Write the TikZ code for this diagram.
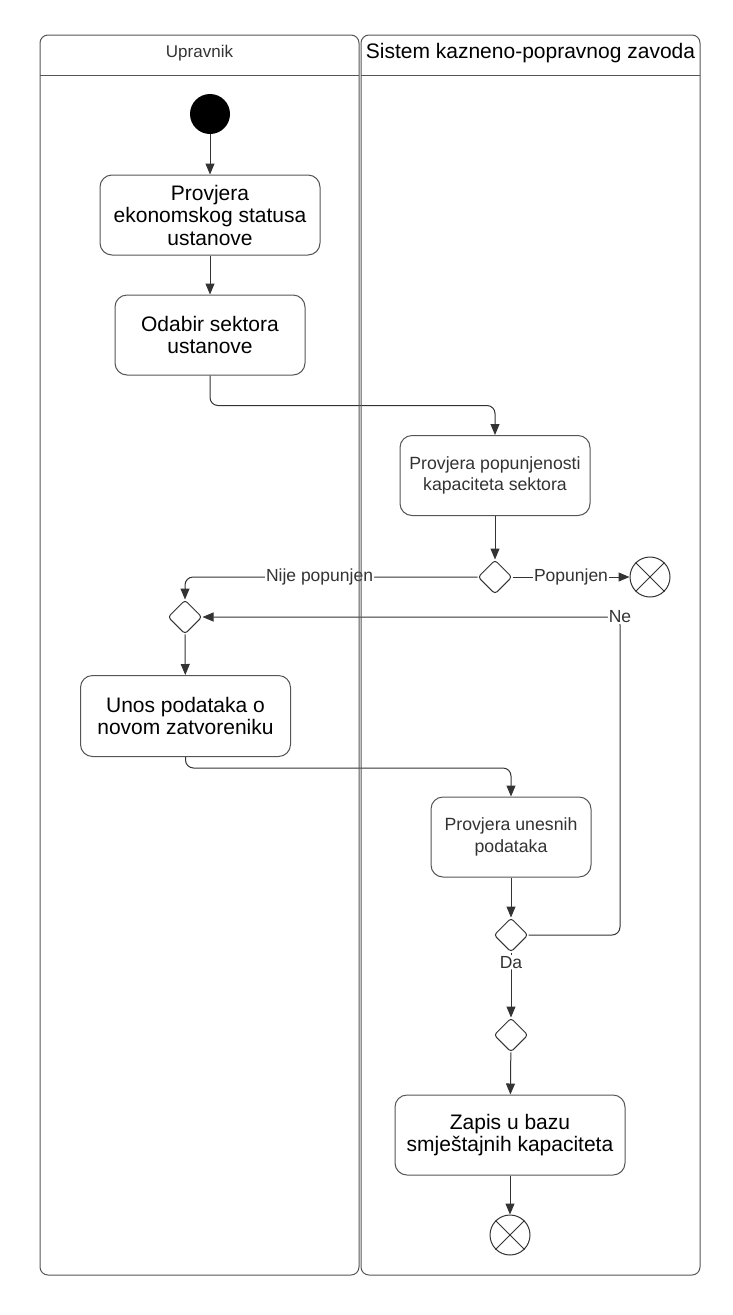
\documentclass[tikz,border=0pt]{standalone}
\usepackage{fontspec}
\setmainfont{Liberation Sans}
\usepackage{tikz}
\usetikzlibrary{calc,positioning,arrows.meta,shapes.geometric}
\definecolor{ink}{HTML}{333333}
\definecolor{rim}{HTML}{555555}
\tikzset{%
  >={Triangle[length=11pt,width=9pt]},
  lane/.style    = {draw=rim, line width=1pt, rounded corners=8pt},
  act/.style     = {draw=rim, line width=1pt, rounded corners=12pt, fill=white, align=center,
                    inner sep=0pt, font=\fontsize{21}{22.5}\selectfont},
  actsm/.style   = {act, text=ink, font=\fontsize{17.7}{21.7}\selectfont},
  dec/.style     = {diamond, draw=ink, line width=1pt, rounded corners=3pt, fill=white,
                    minimum size=34pt, inner sep=0pt},
  initial/.style = {circle, fill=black, minimum size=40pt, inner sep=0pt},
  final/.style   = {circle, draw=ink, line width=1pt, fill=white, minimum size=40pt, inner sep=0pt},
  line/.style    = {draw=ink, line width=1pt, ->, rounded corners=8pt},
  lbl/.style     = {fill=white, text=ink, inner sep=1pt, font=\fontsize{17.5}{20}\selectfont}
}
\begin{document}
\begin{tikzpicture}[x=1pt,y=-1pt]
  \useasboundingbox (0,0) rectangle (732,1315);
  % actions and control nodes
  \node[initial] (start) at (210,114) {};
  \node[act,minimum width=220pt,minimum height=80pt] (ekon) at (210,215)
    {Provjera\\ekonomskog statusa\\ustanove};
  \node[act,minimum width=190pt,minimum height=80pt] (sektor) at (210,335)
    {Odabir sektora\\ustanove};
  \node[actsm,minimum width=190pt,minimum height=80pt] (popun) at (495,475.5)
    {Provjera popunjenosti\\kapaciteta sektora};
  \node[dec] (dPopun) at (495,577) {};
  \node[final] (kraj1) at (650,577) {};
  \node[dec] (dSpoj) at (185,617) {};
  \node[act,minimum width=210pt,minimum height=81pt] (unos) at (185.5,716)
    {Unos podataka o\\novom zatvoreniku};
  \node[actsm,minimum width=160pt,minimum height=80pt] (provUnos) at (511,837)
    {Provjera unesnih\\podataka};
  \node[dec] (dIspravno) at (511,935) {};
  \node[dec] (dZapis) at (511,1035) {};
  \node[act,minimum width=230pt,minimum height=80pt] (zapis) at (510,1135)
    {Zapis u bazu\\smještajnih kapaciteta};
  \node[final] (kraj2) at (510,1235) {};
  \foreach \k in {kraj1,kraj2}
    \draw[ink,line width=1pt] (\k.north east) -- (\k.south west) (\k.north west) -- (\k.south east);
  \coordinate (ne) at (620,617);
  % control flow
  \draw[line] (start) -- (ekon);
  \draw[line] (ekon) -- (sektor);
  \draw[line] (sektor.south) -- ++(0,30) -| (popun.north);
  \draw[line] (popun) -- (dPopun);
  \draw[line] (dPopun.west) -| node[lbl,pos=.27] {Nije popunjen} (dSpoj.north);
  \draw[line] (dPopun.east) -- node[lbl] {Popunjen} (kraj1.west);
  \draw[line] (dSpoj) -- (unos);
  \draw[line] (unos.south) -- ++(0,11) -| (provUnos.north);
  \draw[line] (provUnos) -- (dIspravno);
  \draw[line] (dIspravno.east) -| (ne) node[lbl] {Ne} -- (dSpoj.east);
  \draw[line] (dIspravno.south) -- node[lbl,pos=.15] {Da} (dZapis.north);
  \draw[line] (dZapis) -- (zapis);
  \draw[line] (zapis) -- (kraj2);
  % swimlanes
  \draw[lane] (40,35) rectangle (359,1275);
  \draw[lane] (361,35) rectangle (700,1275);
  \draw[rim,line width=1pt] (40,75) -- (359,75) (361,75.5) -- (700,75.5);
  \node[text=ink,font=\fontsize{17}{20}\selectfont] (upr) at (199.5,53) {Upravnik};
  \node[font=\fontsize{21}{24}\selectfont,inner sep=0pt] (sis) at (530.5,53) {Sistem kazneno-popravnog zavoda};
\end{tikzpicture}
\end{document}
